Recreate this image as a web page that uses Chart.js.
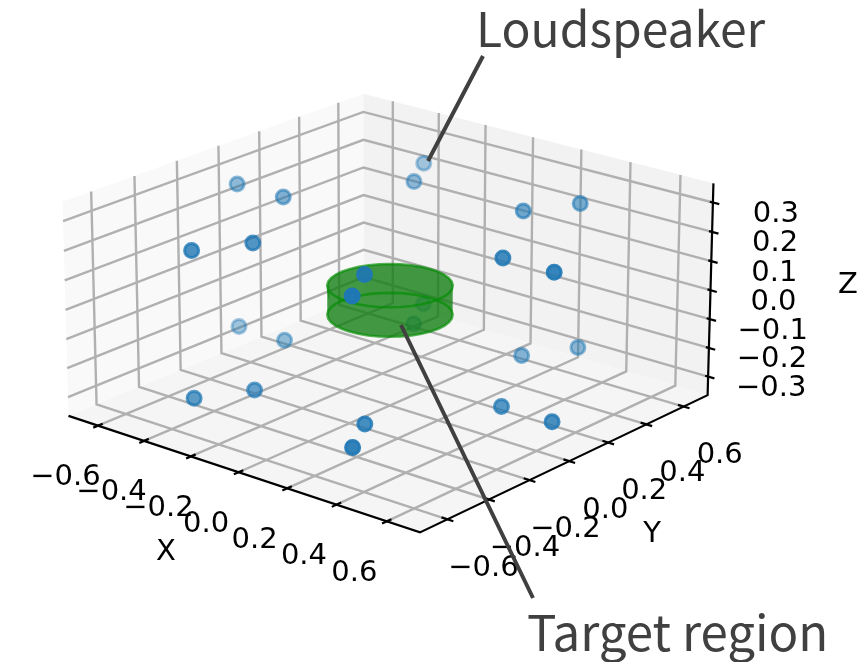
<!DOCTYPE html>
<html>
<head>
<meta charset="utf-8">
<style>
  html, body { margin: 0; padding: 0; background: #fff; }
  canvas { display: block; }
</style>
<script src="https://cdn.jsdelivr.net/npm/chart.js@4/dist/chart.umd.js"></script>
</head>
<body>
<canvas id="roomChart" width="861" height="662"></canvas>
<script>
// loudspeaker positions (metres)
const speakerX = [-0.65, -0.45, -0.33, -0.23, 0.225, 0.32, 0.458, 0.66, 0.23, 0.325, -0.225, -0.32];
const speakerY = [0, 0, -0.57, -0.395, -0.39, -0.56, 0, 0, 0.39, 0.565, 0.39, 0.555];
const speakerLayers = [0.25, -0.25];

const regionRadius = 0.2;
const regionZ = [-0.05, 0.05];

const xyTicks = [-0.6, -0.4, -0.2, 0, 0.2, 0.4, 0.6];
const xyTickLabels = ["−0.6", "−0.4", "−0.2", "0.0", "0.2", "0.4", "0.6"];
const zTicks = [-0.3, -0.2, -0.1, 0, 0.1, 0.2, 0.3];
const zTickLabels = ["−0.3", "−0.2", "−0.1", "0.0", "0.1", "0.2", "0.3"];
const xyLimit = 0.73;
const zLimit = 0.365;

// camera
const elev = 20.5 * Math.PI / 180;
const azim = -50 * Math.PI / 180;
const dist = 14;
const pxPerUnit = 321;
const centerPx = 389;
const centerPy = 299;

const right = [-Math.sin(azim), Math.cos(azim), 0];
const up = [-Math.sin(elev) * Math.cos(azim), -Math.sin(elev) * Math.sin(azim), Math.cos(elev)];
const eye = [Math.cos(elev) * Math.cos(azim), Math.cos(elev) * Math.sin(azim), Math.sin(elev)];

function dot(a, x, y, z) {
  return a[0] * x + a[1] * y + a[2] * z;
}

function project(x, y, z) {
  const depth = dot(eye, x, y, z);
  const w = dist / (dist - depth);
  return { x: dot(right, x, y, z) * w, y: dot(up, x, y, z) * w, depth };
}

// painted back to front, reversed before handing to Chart.js
const layers = [];

function addLine(points, color, width) {
  layers.push({
    data: points.map((p) => project(p[0], p[1], p[2])),
    showLine: true,
    borderColor: color,
    borderWidth: width,
    pointRadius: 0,
    fill: false,
  });
}

function addShape(points, fillColor) {
  layers.push({
    data: points.map((p) => project(p[0], p[1], p[2])),
    showLine: true,
    borderWidth: 0,
    borderColor: "rgba(0,0,0,0)",
    backgroundColor: fillColor,
    pointRadius: 0,
    fill: "shape",
  });
}

const L = xyLimit;
const H = zLimit;

// panes
addShape([[-L, -L, -H], [-L, L, -H], [-L, L, H], [-L, -L, H]], "rgb(249,249,249)");
addShape([[-L, L, -H], [L, L, -H], [L, L, H], [-L, L, H]], "rgb(242,242,242)");
addShape([[-L, -L, -H], [L, -L, -H], [L, L, -H], [-L, L, -H]], "rgb(245,245,245)");

// grid
const gridColor = "rgb(176,176,176)";
xyTicks.forEach((t) => {
  addLine([[t, -L, -H], [t, L, -H], [t, L, H]], gridColor, 2.4);
  addLine([[L, t, -H], [-L, t, -H], [-L, t, H]], gridColor, 2.4);
});
zTicks.forEach((t) => {
  addLine([[-L, -L, t], [-L, L, t], [L, L, t]], gridColor, 2.4);
});

// axes and tick marks
addLine([[-L, -L, -H], [L, -L, -H], [L, L, -H], [L, L, H]], "#000", 2.2);
xyTicks.forEach((t) => {
  addLine([[t, -L - 0.022, -H], [t, -L + 0.022, -H]], "#000", 2.2);
  addLine([[L - 0.023, t, -H], [L + 0.023, t, -H]], "#000", 2.2);
});
zTicks.forEach((t) => {
  addLine([[L - 0.012, L, t], [L + 0.025, L, t]], "#000", 2.2);
});

// speakers, colour fades with distance like depthshade
const speakers = [];
speakerLayers.forEach((z) => {
  speakerX.forEach((x, i) => speakers.push(project(x, speakerY[i], z)));
});
const depths = speakers.map((p) => p.depth);
const nearest = Math.max(...depths);
const farthest = Math.min(...depths);

function addSpeakers(points) {
  const fades = points.map((p) => 0.3 + 0.7 * (p.depth - farthest) / (nearest - farthest));
  layers.push({
    data: points,
    showLine: false,
    pointRadius: 7,
    pointBorderWidth: 3,
    pointBackgroundColor: fades.map((a) => `rgba(31,119,180,${a.toFixed(3)})`),
    pointBorderColor: fades.map((a) => `rgba(31,119,180,${a.toFixed(3)})`),
  });
}

addSpeakers(speakers.filter((p) => p.depth < 0));

// target region
const ring = (z, from, to) => {
  const pts = [];
  for (let deg = from; deg <= to; deg += 10) {
    const a = deg * Math.PI / 180;
    pts.push([regionRadius * Math.cos(a), regionRadius * Math.sin(a), z]);
  }
  return pts;
};
const [regionBottom, regionTop] = regionZ;
addShape(ring(regionTop, 40, 220).concat(ring(regionBottom, 220, 400)), "rgba(15,125,15,0.78)");
addLine(ring(regionBottom, 0, 360), "rgba(0,140,0,0.65)", 2.6);
addLine(ring(regionTop, 0, 360), "rgba(0,140,0,0.65)", 2.6);

addSpeakers(speakers.filter((p) => p.depth >= 0));

// text placed from the projected tick positions
const labelPlugin = {
  id: "labels3d",
  afterDraw(chart) {
    const { ctx, scales } = chart;
    const at = (x, y, z) => {
      const p = project(x, y, z);
      return [scales.x.getPixelForValue(p.x), scales.y.getPixelForValue(p.y)];
    };
    ctx.save();
    ctx.fillStyle = "#000";
    ctx.textAlign = "center";
    ctx.textBaseline = "middle";
    ctx.font = '29px "DejaVu Sans"';
    xyTicks.forEach((t, i) => {
      const [px, py] = at(t, -L, -H);
      ctx.fillText(xyTickLabels[i], px - 32.5, py + 52);
      const [qx, qy] = at(L, t, -H);
      ctx.fillText(xyTickLabels[i], qx + 36, qy + 49);
    });
    zTicks.forEach((t, i) => {
      const [px, py] = at(L, L, t);
      ctx.fillText(zTickLabels[i], px + 63, py + 12);
    });
    ctx.fillText("X", 166, 552);
    ctx.fillText("Y", 652, 534);
    ctx.fillText("Z", 848, 285);

    // callouts
    ctx.strokeStyle = "#404040";
    ctx.lineWidth = 4;
    ctx.beginPath();
    ctx.moveTo(483, 56);
    ctx.lineTo(428, 161);
    ctx.moveTo(401, 325);
    ctx.lineTo(533, 598);
    ctx.stroke();
    ctx.fillStyle = "#404040";
    ctx.textAlign = "left";
    ctx.font = '48px "Noto Sans CJK SC"';
    ctx.fillText("Loudspeaker", 476, 29);
    ctx.font = '49.2px "Noto Sans CJK SC"';
    ctx.fillText("Target region", 527, 632);
    ctx.restore();
  },
};

new Chart(document.getElementById("roomChart"), {
  type: "scatter",
  data: { datasets: layers.slice().reverse() },
  plugins: [labelPlugin],
  options: {
    responsive: false,
    animation: false,
    layout: { padding: 0 },
    plugins: { legend: { display: false }, tooltip: { enabled: false } },
    scales: {
      x: { display: false, min: -centerPx / pxPerUnit, max: (861 - centerPx) / pxPerUnit },
      y: { display: false, min: (centerPy - 662) / pxPerUnit, max: centerPy / pxPerUnit },
    },
  },
});
</script>
</body>
</html>
